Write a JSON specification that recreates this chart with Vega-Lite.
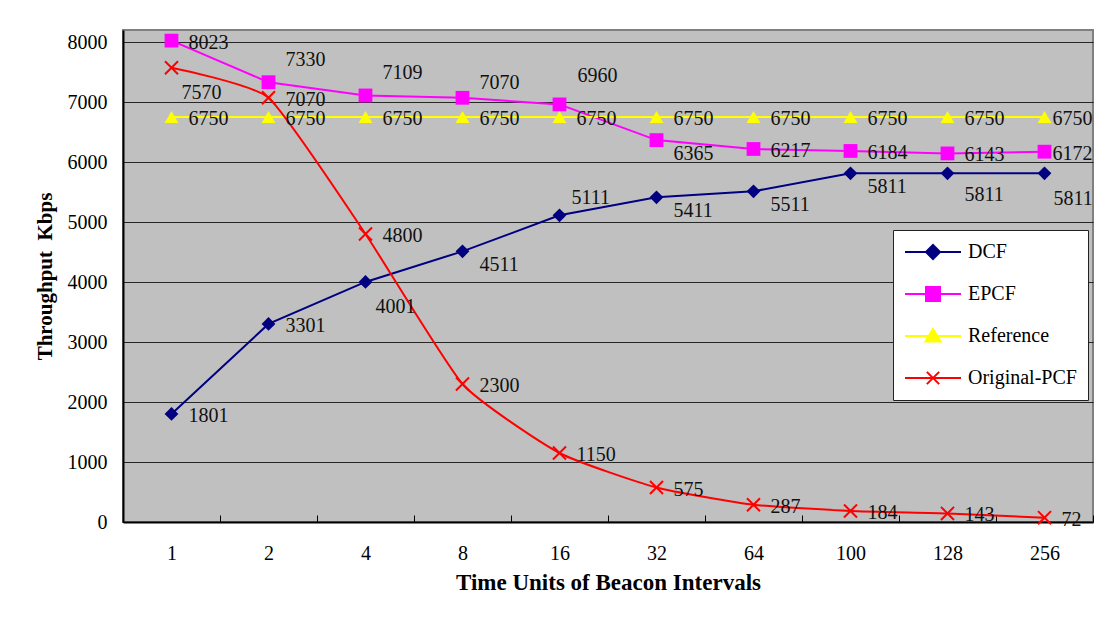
{
  "$schema": "https://vega.github.io/schema/vega-lite/v6.json",
  "width": 970,
  "height": 492,
  "autosize": {"type": "none"},
  "padding": {"left": 123, "top": 30, "right": 2, "bottom": 104},
  "background": "white",
  "config": {
    "view": {"fill": "#C0C0C0", "stroke": "#808080", "strokeWidth": 2},
    "font": "Liberation Serif"
  },
  "data": {
    "values": [
      {"bi": "1", "series": "DCF", "value": 1801},
      {"bi": "2", "series": "DCF", "value": 3301},
      {"bi": "4", "series": "DCF", "value": 4001},
      {"bi": "8", "series": "DCF", "value": 4511},
      {"bi": "16", "series": "DCF", "value": 5111},
      {"bi": "32", "series": "DCF", "value": 5411},
      {"bi": "64", "series": "DCF", "value": 5511},
      {"bi": "100", "series": "DCF", "value": 5811},
      {"bi": "128", "series": "DCF", "value": 5811},
      {"bi": "256", "series": "DCF", "value": 5811},
      {"bi": "1", "series": "EPCF", "value": 8023},
      {"bi": "2", "series": "EPCF", "value": 7330},
      {"bi": "4", "series": "EPCF", "value": 7109},
      {"bi": "8", "series": "EPCF", "value": 7070},
      {"bi": "16", "series": "EPCF", "value": 6960},
      {"bi": "32", "series": "EPCF", "value": 6365},
      {"bi": "64", "series": "EPCF", "value": 6217},
      {"bi": "100", "series": "EPCF", "value": 6184},
      {"bi": "128", "series": "EPCF", "value": 6143},
      {"bi": "256", "series": "EPCF", "value": 6172},
      {"bi": "1", "series": "Reference", "value": 6750},
      {"bi": "2", "series": "Reference", "value": 6750},
      {"bi": "4", "series": "Reference", "value": 6750},
      {"bi": "8", "series": "Reference", "value": 6750},
      {"bi": "16", "series": "Reference", "value": 6750},
      {"bi": "32", "series": "Reference", "value": 6750},
      {"bi": "64", "series": "Reference", "value": 6750},
      {"bi": "100", "series": "Reference", "value": 6750},
      {"bi": "128", "series": "Reference", "value": 6750},
      {"bi": "256", "series": "Reference", "value": 6750},
      {"bi": "1", "series": "Original-PCF", "value": 7570},
      {"bi": "2", "series": "Original-PCF", "value": 7070},
      {"bi": "4", "series": "Original-PCF", "value": 4800},
      {"bi": "8", "series": "Original-PCF", "value": 2300},
      {"bi": "16", "series": "Original-PCF", "value": 1150},
      {"bi": "32", "series": "Original-PCF", "value": 575},
      {"bi": "64", "series": "Original-PCF", "value": 287},
      {"bi": "100", "series": "Original-PCF", "value": 184},
      {"bi": "128", "series": "Original-PCF", "value": 143},
      {"bi": "256", "series": "Original-PCF", "value": 72}
    ]
  },
  "encoding": {
    "x": {
      "field": "bi", "type": "ordinal", "sort": null, "bandPosition": 0.5,
      "scale": {"type": "band", "paddingInner": 0, "paddingOuter": 0},
      "axis": {
        "title": "Time Units of Beacon Intervals",
        "titleFont": "Liberation Serif", "titleFontSize": 23, "titleFontWeight": "bold", "titleColor": "#000", "titlePadding": 8,
        "labelFont": "Liberation Serif", "labelFontSize": 20, "labelColor": "#000", "labelAngle": 0, "labelPadding": 28,
        "tickBand": "extent", "ticks": true, "tickSize": -7, "tickColor": "#000", "tickWidth": 1,
        "domainColor": "#000", "domainWidth": 2, "grid": false
      }
    },
    "y": {
      "field": "value", "type": "quantitative",
      "scale": {"domain": [0, 8200], "nice": false},
      "axis": {
        "title": "Throughput\u00a0\u00a0Kbps",
        "titleFont": "Liberation Serif", "titleFontSize": 21, "titleFontWeight": "bold", "titleColor": "#000", "titlePadding": 12,
        "values": [0, 1000, 2000, 3000, 4000, 5000, 6000, 7000, 8000], "format": "d",
        "labelFont": "Liberation Serif", "labelFontSize": 20, "labelColor": "#000", "labelPadding": 16,
        "ticks": false, "grid": true, "gridColor": "#000", "gridWidth": 1, "gridOpacity": 0.8,
        "domainColor": "#000", "domainWidth": 2
      }
    },
    "color": {
      "field": "series", "type": "nominal",
      "scale": {"domain": ["DCF", "EPCF", "Reference", "Original-PCF"], "range": ["#000080", "#FF00FF", "#FFFF00", "#FF0000"]},
      "legend": {
        "title": null, "orient": "none", "legendX": 770, "legendY": 200,
        "padding": 11, "fillColor": "white", "strokeColor": "#222",
        "labelFont": "Liberation Serif", "labelFontSize": 20, "labelColor": "#000", "labelOffset": 6,
        "symbolSize": 3136, "clipHeight": 22, "rowPadding": 20,
        "encode": {
          "symbols": {
            "update": {
              "shape": {"signal": "datum.value === 'DCF' ? 'M-1,0H1M-0.25,0L0,-0.25L0.25,0L0,0.25Z' : datum.value === 'EPCF' ? 'M-1,0H1M-0.25,-0.25H0.25V0.25H-0.25Z' : datum.value === 'Reference' ? 'M-1,0H1M0,-0.25L0.27,0.2L-0.27,0.2Z' : 'M-1,0H1M-0.22,-0.22L0.22,0.22M-0.22,0.22L0.22,-0.22'"},
              "fill": {"scale": "color", "field": "value"},
              "stroke": {"scale": "color", "field": "value"},
              "strokeWidth": {"value": 2},
              "size": {"value": 3136},
              "opacity": {"value": 1}
            }
          }
        }
      }
    }
  },
  "layer": [
    {
      "transform": [{"filter": "datum.series !== 'Original-PCF'"}],
      "mark": {"type": "line", "strokeWidth": 2}
    },
    {
      "transform": [{"filter": "datum.series === 'Original-PCF'"}],
      "mark": {"type": "line", "strokeWidth": 2, "interpolate": "cardinal", "tension": 0.5}
    },
    {
      "transform": [{"filter": "datum.series !== 'Original-PCF'"}],
      "mark": {"type": "point", "filled": true, "size": 190, "opacity": 1},
      "encoding": {
        "shape": {"field": "series", "type": "nominal", "legend": null,
          "scale": {"domain": ["DCF", "EPCF", "Reference"], "range": ["diamond", "square", "triangle-up"]}}
      }
    },
    {
      "transform": [{"filter": "datum.series === 'Original-PCF'"}],
      "mark": {"type": "point", "filled": false, "size": 170, "strokeWidth": 2, "opacity": 1, "shape": "M-1,-1L1,1M-1,1L1,-1"}
    },
    {
      "transform": [{"filter": "indexof(['DCF|4','DCF|8','DCF|16','DCF|32','DCF|64','DCF|100','DCF|128','DCF|256','EPCF|2','EPCF|4','EPCF|8','EPCF|16','EPCF|32','EPCF|256','Reference|256','Original-PCF|1'], datum.series + '|' + datum.bi) < 0"}],
      "mark": {"type": "text", "align": "left", "baseline": "middle", "dx": 17, "dy": 2, "font": "Liberation Serif", "fontSize": 20},
      "encoding": {"text": {"field": "value", "type": "quantitative", "format": "d"}, "color": {"value": "#111"}}
    },
    {
      "transform": [{"filter": "indexof(['EPCF|256','Reference|256'], datum.series + '|' + datum.bi) >= 0"}],
      "mark": {"type": "text", "align": "left", "baseline": "middle", "dx": 8, "dy": 2, "font": "Liberation Serif", "fontSize": 20},
      "encoding": {"text": {"field": "value", "type": "quantitative", "format": "d"}, "color": {"value": "#111"}}
    },
    {
      "transform": [{"filter": "indexof(['DCF|8','DCF|32','DCF|64','DCF|100','EPCF|32'], datum.series + '|' + datum.bi) >= 0"}],
      "mark": {"type": "text", "align": "left", "baseline": "middle", "dx": 17, "dy": 14, "font": "Liberation Serif", "fontSize": 20},
      "encoding": {"text": {"field": "value", "type": "quantitative", "format": "d"}, "color": {"value": "#111"}}
    },
    {
      "transform": [{"filter": "datum.series === 'DCF' && datum.bi === '128'"}],
      "mark": {"type": "text", "align": "left", "baseline": "middle", "dx": 17, "dy": 22, "font": "Liberation Serif", "fontSize": 20},
      "encoding": {"text": {"field": "value", "type": "quantitative", "format": "d"}, "color": {"value": "#111"}}
    },
    {
      "transform": [{"filter": "datum.series === 'DCF' && datum.bi === '256'"}],
      "mark": {"type": "text", "align": "left", "baseline": "middle", "dx": 9, "dy": 26, "font": "Liberation Serif", "fontSize": 20},
      "encoding": {"text": {"field": "value", "type": "quantitative", "format": "d"}, "color": {"value": "#111"}}
    },
    {
      "transform": [{"filter": "indexof(['DCF|4','Original-PCF|1'], datum.series + '|' + datum.bi) >= 0"}],
      "mark": {"type": "text", "align": "left", "baseline": "middle", "dx": 10, "dy": 25, "font": "Liberation Serif", "fontSize": 20},
      "encoding": {"text": {"field": "value", "type": "quantitative", "format": "d"}, "color": {"value": "#111"}}
    },
    {
      "transform": [{"filter": "datum.series === 'DCF' && datum.bi === '16'"}],
      "mark": {"type": "text", "align": "left", "baseline": "middle", "dx": 12, "dy": -17, "font": "Liberation Serif", "fontSize": 20},
      "encoding": {"text": {"field": "value", "type": "quantitative", "format": "d"}, "color": {"value": "#111"}}
    },
    {
      "transform": [{"filter": "indexof(['EPCF|2','EPCF|4'], datum.series + '|' + datum.bi) >= 0"}],
      "mark": {"type": "text", "align": "left", "baseline": "middle", "dx": 17, "dy": -22, "font": "Liberation Serif", "fontSize": 20},
      "encoding": {"text": {"field": "value", "type": "quantitative", "format": "d"}, "color": {"value": "#111"}}
    },
    {
      "transform": [{"filter": "datum.series === 'EPCF' && datum.bi === '8'"}],
      "mark": {"type": "text", "align": "left", "baseline": "middle", "dx": 17, "dy": -15, "font": "Liberation Serif", "fontSize": 20},
      "encoding": {"text": {"field": "value", "type": "quantitative", "format": "d"}, "color": {"value": "#111"}}
    },
    {
      "transform": [{"filter": "datum.series === 'EPCF' && datum.bi === '16'"}],
      "mark": {"type": "text", "align": "left", "baseline": "middle", "dx": 18, "dy": -28, "font": "Liberation Serif", "fontSize": 20},
      "encoding": {"text": {"field": "value", "type": "quantitative", "format": "d"}, "color": {"value": "#111"}}
    }
  ]
}
